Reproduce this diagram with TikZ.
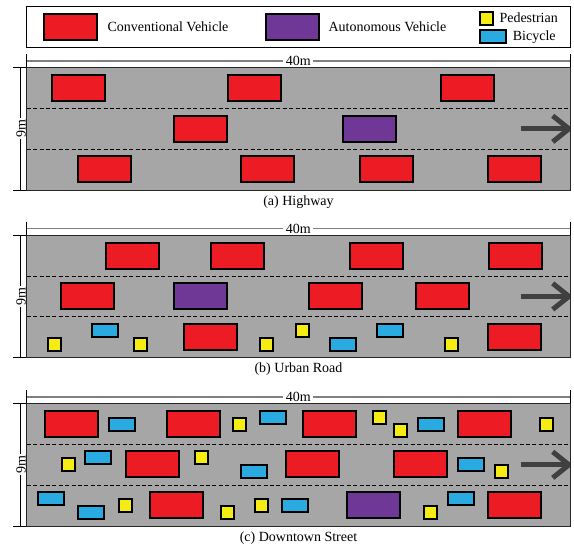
\documentclass[tikz,border=0pt]{standalone}
\usepackage{fontspec}
\setmainfont{Liberation Serif}
\definecolor{roadgray}{RGB}{166,166,166}
\definecolor{carred}{RGB}{237,28,36}
\definecolor{avpurple}{RGB}{112,56,150}
\definecolor{pedyellow}{RGB}{245,236,20}
\definecolor{bikeblue}{RGB}{41,171,226}
\definecolor{arrowgray}{RGB}{64,64,64}
\definecolor{dimgray}{RGB}{128,128,128}
\tikzset{
  veh/.style={draw=black, line width=1.5pt, anchor=north west, inner sep=0pt, outer sep=0pt},
  car/.style={veh, fill=carred, minimum width=53pt, minimum height=26pt},
  av/.style={car, fill=avpurple},
  ped/.style={veh, fill=pedyellow, minimum width=13pt, minimum height=13pt},
  bike/.style={veh, fill=bikeblue, minimum width=26pt, minimum height=13pt},
  lbl/.style={font=\fontsize{14}{16}\selectfont, inner sep=0pt},
  dimtxt/.style={font=\fontsize{14}{16}\selectfont, fill=white, inner sep=2.5pt},
  laneline/.style={black, line width=0.9pt, dash pattern=on 4pt off 2.4pt},
  arrowst/.style={arrowgray, line width=5pt},
  thinline/.style={black, line width=0.8pt},
}
\newcommand{\roadpanel}[4]{%
  \fill[roadgray] (26.7,#1) rectangle (570,{#1+122.3});
  \draw[laneline] (26.7,{#1+40.75}) -- (570,{#1+40.75});
  \draw[laneline] (26.7,{#1+81.5}) -- (570,{#1+81.5});
  \begin{scope}
    \clip (26.7,#1) rectangle (570,{#1+122.3});
    \coordinate (#3s) at (520.7,{#1+61.1});
    \coordinate (#3t) at (569,{#1+61.1});
    \coordinate (#3u) at (552.7,{#1+48.1});
    \coordinate (#3l) at (552.7,{#1+74.1});
    \draw[arrowst] (#3s) -- (#3t);
    \draw[arrowst] (#3u) -- (#3t) -- (#3l);
  \end{scope}
  \draw[dimgray, line width=1.5pt] (26.7,{#1-6.7}) -- (570,{#1-6.7});
  \node[dimtxt] (#3w) at (298.3,{#1-6.5}) {40m};
  \draw[thinline] (26.7,{#1-13.7}) -- (26.7,#1);
  \draw[thinline] (570,{#1-13.7}) -- (570,#1);
  \draw[thinline] (13.3,#1) -- (26.7,#1);
  \draw[thinline] (13.3,{#1+122.3}) -- (26.7,{#1+122.3});
  \draw[thinline] (20.7,#1) -- (20.7,{#1+122.3});
  \node[dimtxt, rotate=90, inner sep=1.5pt] (#3h) at (21,{#1+61.1}) {9m};
  \node[lbl, anchor=base] (#3c) at (298.5,{#1+137.3}) {#2};
  #4
  \draw[black!85, line width=1pt] (26.7,#1) rectangle (570,{#1+122.3});
}
\begin{document}
\begin{tikzpicture}[x=1pt,y=-1pt]
\useasboundingbox (0,0) rectangle (574,546);
% legend
\draw[black, line width=1pt] (26.7,6.7) rectangle (570,47.3);
\node[car] (lgcar) at (44,14) {};
\node[lbl, anchor=base west] (lgcart) at (107.3,31.7) {Conventional Vehicle};
\node[av] (lgav) at (266,14) {};
\node[lbl, anchor=base west] (lgavt) at (328.3,31.7) {Autonomous Vehicle};
\node[ped] (lgped) at (480,12) {};
\node[lbl, anchor=base west] (lgpedt) at (499.3,22.2) {Pedestrian};
\node[bike] (lgbike) at (480,30) {};
\node[lbl, anchor=base west] (lgbiket) at (512.7,41) {Bicycle};

% (a) Highway
\roadpanel{67.7}{(a) Highway}{pa}{%
  \node[car] (a1) at (52,75) {};
  \node[car] (a2) at (228,75) {};
  \node[car] (a3) at (441,75) {};
  \node[car] (a4) at (174,116) {};
  \node[av]  (a5) at (343,116) {};
  \node[car] (a6) at (78,156) {};
  \node[car] (a7) at (241,156) {};
  \node[car] (a8) at (360,156) {};
  \node[car] (a9) at (488,156) {};
}

% (b) Urban Road
\roadpanel{235.3}{(b) Urban Road}{pb}{%
  \node[car] (b1) at (106,243) {};
  \node[car] (b2) at (211,243) {};
  \node[car] (b3) at (350,243) {};
  \node[car] (b4) at (489,243) {};
  \node[car] (b5) at (61,283) {};
  \node[av]  (b6) at (174,283) {};
  \node[car] (b7) at (309,283) {};
  \node[car] (b8) at (416,283) {};
  \node[car] (b9) at (184,324) {};
  \node[car] (b10) at (488,324) {};
  \node[bike] (b11) at (92,324) {};
  \node[bike] (b12) at (330,338) {};
  \node[bike] (b13) at (377,324) {};
  \node[ped] (b14) at (48,338) {};
  \node[ped] (b15) at (134,338) {};
  \node[ped] (b16) at (260,338) {};
  \node[ped] (b17) at (296,324) {};
  \node[ped] (b18) at (445,338) {};
}

% (c) Downtown Street
\roadpanel{403.7}{(c) Downtown Street}{pc}{%
  \node[car] (c1) at (45,411) {};
  \node[car] (c2) at (167,411) {};
  \node[car] (c3) at (303,411) {};
  \node[car] (c4) at (458,411) {};
  \node[bike] (c5) at (109,418) {};
  \node[bike] (c6) at (260,411) {};
  \node[bike] (c7) at (418,418) {};
  \node[ped] (c8) at (233,418) {};
  \node[ped] (c9) at (373,411) {};
  \node[ped] (c10) at (394,424) {};
  \node[ped] (c11) at (540,418) {};
  \node[car] (c12) at (126,451) {};
  \node[car] (c13) at (286,451) {};
  \node[car] (c14) at (394,451) {};
  \node[bike] (c15) at (85,451) {};
  \node[bike] (c16) at (241,465) {};
  \node[bike] (c17) at (458,458) {};
  \node[ped] (c18) at (62,458) {};
  \node[ped] (c19) at (195,451) {};
  \node[ped] (c20) at (495,465) {};
  \node[car] (c21) at (150,492) {};
  \node[car] (c22) at (488,492) {};
  \node[av]  (c23) at (347,492) {};
  \node[bike] (c24) at (38,492) {};
  \node[bike] (c25) at (78,506) {};
  \node[bike] (c26) at (282,499) {};
  \node[bike] (c27) at (448,492) {};
  \node[ped] (c28) at (119,499) {};
  \node[ped] (c29) at (221,506) {};
  \node[ped] (c30) at (255,499) {};
  \node[ped] (c31) at (424,506) {};
}
\end{tikzpicture}
\end{document}
